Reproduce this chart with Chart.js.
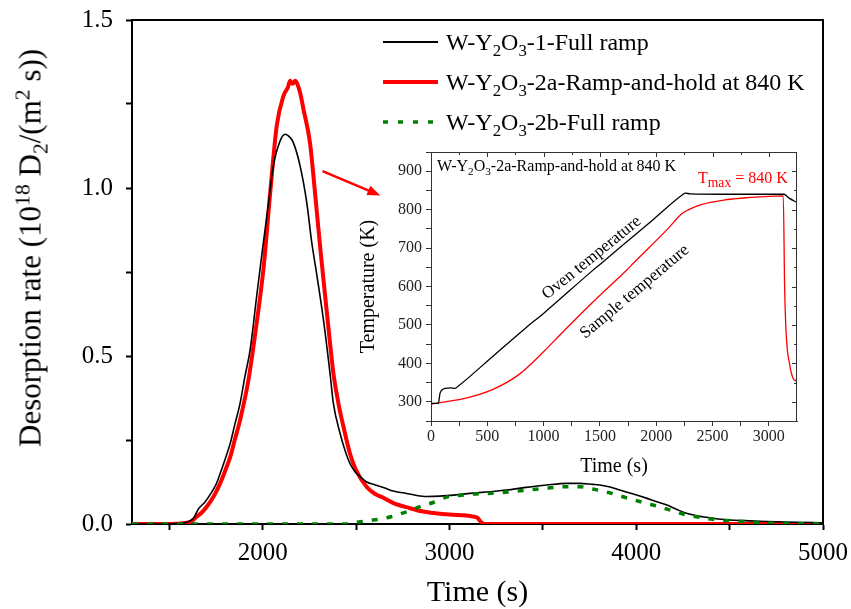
<!DOCTYPE html>
<html>
<head>
<meta charset="utf-8">
<script src="https://cdn.jsdelivr.net/npm/chart.js@4.4.0/dist/chart.umd.min.js"></script>
<style>
  body { margin: 0; background: #fff; }
  #wrap { position: relative; width: 851px; height: 609px; font-family: "Liberation Serif", "Times New Roman", serif; color: #000; }
  canvas { position: absolute; }
  #main { left: 0; top: 0; }
  #inset { left: 350px; top: 145px; }
  .txt { position: absolute; white-space: nowrap; }
  .txt sub, .txt sup { font-size: 70%; line-height: 0; }
  .legend-row { position: absolute; left: 383px; height: 24px; }
  .legend-row svg { position: absolute; left: 0; top: 0; }
  .legend-row span { position: absolute; left: 63px; top: 0; font-size: 24px; line-height: 24px; white-space: nowrap; }
</style>
</head>
<body>
<div id="wrap">
  <canvas id="main" width="851" height="609"></canvas>
  <canvas id="inset" width="455" height="340"></canvas>

  <div class="txt" id="ytitle" style="left:30px; top:248px; font-size:31px; line-height:31px; transform:translate(-50%,-50%) rotate(-90deg);">
    Desorption rate (10<sup>18</sup> D<sub>2</sub>/(m<sup>2</sup> s))
  </div>

  <div class="legend-row" style="top:30px;">
    <svg width="60" height="24"><line x1="0" y1="12" x2="55" y2="12" stroke="#000" stroke-width="1.8"/></svg>
    <span>W-Y<sub style="font-size:70%">2</sub>O<sub style="font-size:70%">3</sub>-1-Full ramp</span>
  </div>
  <div class="legend-row" style="top:70px;">
    <svg width="60" height="24"><line x1="0" y1="12" x2="55" y2="12" stroke="#ff0000" stroke-width="4"/></svg>
    <span>W-Y<sub style="font-size:70%">2</sub>O<sub style="font-size:70%">3</sub>-2a-Ramp-and-hold at 840 K</span>
  </div>
  <div class="legend-row" style="top:110px;">
    <svg width="60" height="24"><line x1="0" y1="12" x2="55" y2="12" stroke="#008000" stroke-width="3.5" stroke-dasharray="5 10"/></svg>
    <span>W-Y<sub style="font-size:70%">2</sub>O<sub style="font-size:70%">3</sub>-2b-Full ramp</span>
  </div>

  <div class="txt" style="left:437px; top:158px; font-size:16px; line-height:16px;">
    W-Y<sub>2</sub>O<sub>3</sub>-2a-Ramp-and-hold at 840 K
  </div>
  <div class="txt" style="left:698px; top:170px; font-size:16px; line-height:16px; color:#ff0000;">
    T<sub style="font-size:85%">max</sub> = 840 K
  </div>
  <div class="txt" style="left:591px; top:257px; font-size:17px; line-height:17px; transform:translate(-50%,-50%) rotate(-39deg);">Oven temperature</div>
  <div class="txt" style="left:634px; top:291px; font-size:17px; line-height:17px; transform:translate(-50%,-50%) rotate(-40deg);">Sample temperature</div>
</div>

<script>
// main TDS spectra, time (s) vs desorption rate (1e18 D2 / m2 s)
const blackTime = [1300, 1450, 1560, 1600, 1629, 1656, 1690, 1719, 1750, 1772, 1800, 1826, 1850, 1879, 1905, 1933, 1968, 1995, 2031, 2057, 2093, 2120, 2147, 2164, 2200, 2236, 2262, 2290, 2325, 2360, 2378, 2414, 2440, 2467, 2495, 2521, 2557, 2592, 2650, 2699, 2760, 2824, 2878, 2949, 3040, 3127, 3215, 3305, 3410, 3519, 3626, 3697, 3768, 3804, 3860, 3911, 3980, 4054, 4110, 4161, 4215, 4268, 4320, 4375, 4440, 4500, 4580, 4660, 4800, 4943, 5000];
const blackRate = [0, 0, 0.002, 0.007, 0.017, 0.045, 0.065, 0.088, 0.118, 0.15, 0.195, 0.24, 0.295, 0.36, 0.44, 0.52, 0.68, 0.80, 0.956, 1.066, 1.14, 1.16, 1.15, 1.135, 1.066, 0.956, 0.84, 0.74, 0.608, 0.45, 0.36, 0.27, 0.22, 0.18, 0.155, 0.141, 0.125, 0.118, 0.108, 0.098, 0.092, 0.085, 0.082, 0.083, 0.087, 0.092, 0.096, 0.101, 0.109, 0.116, 0.121, 0.121, 0.118, 0.116, 0.11, 0.101, 0.09, 0.077, 0.066, 0.057, 0.044, 0.032, 0.025, 0.02, 0.015, 0.012, 0.01, 0.008, 0.006, 0.004, 0.003];

const redTime = [1300, 1500, 1574, 1620, 1647, 1675, 1701, 1740, 1772, 1800, 1826, 1850, 1879, 1924, 1968, 2004, 2040, 2075, 2111, 2135, 2147, 2160, 2173, 2185, 2200, 2218, 2253, 2280, 2307, 2334, 2360, 2378, 2405, 2432, 2467, 2500, 2557, 2600, 2646, 2700, 2788, 2859, 2913, 3000, 3091, 3127, 3150, 3172, 3190, 3300, 5000];
const redRate = [0, 0, 0.002, 0.008, 0.022, 0.035, 0.052, 0.085, 0.121, 0.16, 0.2, 0.25, 0.31, 0.43, 0.6, 0.76, 0.986, 1.185, 1.274, 1.30, 1.319, 1.31, 1.319, 1.31, 1.284, 1.235, 1.135, 0.986, 0.827, 0.68, 0.54, 0.45, 0.36, 0.29, 0.21, 0.16, 0.11, 0.09, 0.078, 0.062, 0.047, 0.037, 0.033, 0.028, 0.025, 0.022, 0.018, 0.004, 0, 0, 0];

const greenTime = [1300, 2450, 2503, 2580, 2646, 2700, 2735, 2790, 2842, 2913, 2984, 3050, 3127, 3200, 3269, 3360, 3447, 3530, 3608, 3697, 3768, 3857, 3929, 4018, 4100, 4178, 4268, 4340, 4410, 4500, 4589, 4700, 5000];
const greenRate = [0, 0, 0.005, 0.011, 0.016, 0.024, 0.03, 0.04, 0.052, 0.064, 0.08, 0.085, 0.089, 0.091, 0.093, 0.098, 0.103, 0.107, 0.111, 0.111, 0.104, 0.093, 0.081, 0.067, 0.055, 0.042, 0.027, 0.02, 0.014, 0.01, 0.007, 0.003, 0];

const seriesNames = ['W-Y2O3-1-Full ramp', 'W-Y2O3-2a-Ramp-and-hold at 840 K', 'W-Y2O3-2b-Full ramp'];

const xTicks = [1500, 2000, 2500, 3000, 3500, 4000, 4500, 5000];
const xLabels = [2000, 3000, 4000, 5000];
const yTicks = [0, 0.25, 0.5, 0.75, 1.0, 1.25, 1.5];
const yLabels = [0, 0.5, 1.0, 1.5];

// arrow pointing to the inset, in data units
const arrowFrom = [2320, 1.05];
const arrowTo = [2630, 0.978];

// inset: oven / sample temperature during ramp-and-hold
const ovenTime = [0, 65, 80, 95, 125, 175, 213, 243, 540, 836, 999, 1429, 1503, 1725, 1977, 2230, 2259, 2300, 2600, 2900, 3134, 3180, 3253];
const ovenTemp = [296, 296, 322, 330, 335, 336, 335, 341, 416, 491, 530, 640, 658, 713, 775, 838, 843, 841, 840, 840, 840, 830, 818];
const sampleTime = [0, 124, 302, 540, 777, 999, 1132, 1429, 1503, 1725, 1799, 2096, 2230, 2290, 2333, 2400, 2481, 2600, 2689, 2800, 2926, 3050, 3128, 3140, 3150, 3164, 3180, 3193, 3210, 3223, 3240, 3253];
const sampleTemp = [294, 300, 309, 331, 370, 430, 470, 557, 578, 639, 661, 748, 790, 800, 806, 813, 819, 825, 828, 831, 833, 835, 836, 600, 500, 435, 405, 383, 365, 357, 355, 338];

const insetXTicks = [0, 250, 500, 750, 1000, 1250, 1500, 1750, 2000, 2250, 2500, 2750, 3000];
const insetYTicks = [250, 300, 350, 400, 450, 500, 550, 600, 650, 700, 750, 800, 850, 900, 950];

Chart.defaults.font.family = "'Liberation Serif', 'Times New Roman', serif";
Chart.defaults.color = '#000';

const toXY = (xs, ys) => xs.map((x, i) => ({ x: x, y: ys[i] }));

// fixed axis size, no extra room for overhanging labels
const fixSize = (w, h) => s => {
  if (w != null) s.width = w;
  if (h != null) s.height = h;
  s.paddingTop = 0; s.paddingBottom = 0; s.paddingLeft = 0; s.paddingRight = 0;
};

const mainDeco = {
  id: 'mainDeco',
  afterDraw(chart) {
    const { ctx, chartArea: a, scales: { x, y } } = chart;
    ctx.save();
    // top and right frame
    ctx.strokeStyle = '#000';
    ctx.lineWidth = 2;
    ctx.beginPath();
    ctx.moveTo(a.left, a.top);
    ctx.lineTo(a.right, a.top);
    ctx.lineTo(a.right, a.bottom);
    ctx.stroke();
    // red arrow
    const x0 = x.getPixelForValue(arrowFrom[0]), y0 = y.getPixelForValue(arrowFrom[1]);
    const x1 = x.getPixelForValue(arrowTo[0]), y1 = y.getPixelForValue(arrowTo[1]);
    const ang = Math.atan2(y1 - y0, x1 - x0);
    ctx.strokeStyle = '#ff0000';
    ctx.fillStyle = '#ff0000';
    ctx.lineWidth = 2.5;
    ctx.beginPath();
    ctx.moveTo(x0, y0);
    ctx.lineTo(x1 - 10 * Math.cos(ang), y1 - 10 * Math.sin(ang));
    ctx.stroke();
    ctx.beginPath();
    ctx.moveTo(x1, y1);
    ctx.lineTo(x1 - 13 * Math.cos(ang) + 5 * Math.sin(ang), y1 - 13 * Math.sin(ang) - 5 * Math.cos(ang));
    ctx.lineTo(x1 - 13 * Math.cos(ang) - 5 * Math.sin(ang), y1 - 13 * Math.sin(ang) + 5 * Math.cos(ang));
    ctx.closePath();
    ctx.fill();
    ctx.restore();
  }
};

new Chart(document.getElementById('main'), {
  type: 'line',
  data: {
    datasets: [
      { label: seriesNames[0], data: toXY(blackTime, blackRate), borderColor: '#000', borderWidth: 1.6, pointRadius: 0, cubicInterpolationMode: 'monotone', order: 1 },
      { label: seriesNames[1], data: toXY(redTime, redRate), borderColor: '#ff0000', borderWidth: 4, pointRadius: 0, cubicInterpolationMode: 'monotone', order: 2 },
      { label: seriesNames[2], data: toXY(greenTime, greenRate), borderColor: '#008000', borderWidth: 3.5, borderDash: [6, 9], pointRadius: 0, cubicInterpolationMode: 'monotone', order: 0 }
    ]
  },
  options: {
    responsive: false,
    animation: false,
    layout: { padding: { top: 20, right: 28, left: 0, bottom: 0 } },
    plugins: { legend: { display: false }, tooltip: { enabled: false } },
    scales: {
      x: {
        type: 'linear', min: 1300, max: 5000,
        afterBuildTicks: s => { s.ticks = xTicks.map(v => ({ value: v })); },
        afterFit: fixSize(null, 85),
        ticks: { callback: v => xLabels.includes(v) ? String(v) : '', font: { size: 25 }, padding: 8, autoSkip: false, maxRotation: 0 },
        grid: { drawOnChartArea: false, tickLength: 6, tickWidth: 2, tickColor: '#000' },
        border: { color: '#000', width: 2 },
        title: { display: true, text: 'Time (s)', font: { size: 30, lineHeight: 1 }, padding: { top: 0, bottom: 1 } }
      },
      y: {
        type: 'linear', min: 0, max: 1.5,
        afterBuildTicks: s => { s.ticks = yTicks.map(v => ({ value: v })); },
        afterFit: fixSize(132, null),
        ticks: { callback: v => yLabels.includes(v) ? v.toFixed(1) : '', font: { size: 25 }, padding: 13, autoSkip: false },
        grid: { drawOnChartArea: false, tickLength: 6, tickWidth: 2, tickColor: '#000' },
        border: { color: '#000', width: 2 }
      }
    }
  },
  plugins: [mainDeco]
});

const insetFrame = {
  id: 'insetFrame',
  afterDraw(chart) {
    const { ctx, chartArea: a, scales: { x, y } } = chart;
    ctx.save();
    ctx.strokeStyle = '#333';
    ctx.lineWidth = 1;
    ctx.beginPath();
    ctx.moveTo(a.left, a.top + 0.5);
    ctx.lineTo(a.right - 0.5, a.top + 0.5);
    ctx.lineTo(a.right - 0.5, a.bottom);
    // mirrored ticks pointing inward
    insetXTicks.forEach(v => {
      const px = Math.round(x.getPixelForValue(v)) + 0.5;
      ctx.moveTo(px, a.top);
      ctx.lineTo(px, a.top + (v % 500 === 0 ? 5 : 3));
    });
    insetYTicks.forEach(v => {
      const py = Math.round(y.getPixelForValue(v)) + 0.5;
      ctx.moveTo(a.right, py);
      ctx.lineTo(a.right - (v % 100 === 0 ? 5 : 3), py);
    });
    ctx.stroke();
    ctx.restore();
  }
};

new Chart(document.getElementById('inset'), {
  type: 'line',
  data: {
    datasets: [
      { label: 'Oven temperature', data: toXY(ovenTime, ovenTemp), borderColor: '#000', borderWidth: 1.3, pointRadius: 0, cubicInterpolationMode: 'monotone' },
      { label: 'Sample temperature', data: toXY(sampleTime, sampleTemp), borderColor: '#ff0000', borderWidth: 1.3, pointRadius: 0, cubicInterpolationMode: 'monotone' }
    ]
  },
  options: {
    responsive: false,
    animation: false,
    layout: { padding: { top: 7, right: 8, left: 0, bottom: 0 } },
    plugins: { legend: { display: false }, tooltip: { enabled: false } },
    scales: {
      x: {
        type: 'linear', min: 0, max: 3250,
        afterBuildTicks: s => { s.ticks = insetXTicks.map(v => ({ value: v })); },
        afterFit: fixSize(null, 64),
        ticks: { callback: v => v % 500 === 0 ? String(v) : '', font: { size: 16 }, color: '#222', padding: 1, autoSkip: false, maxRotation: 0 },
        grid: { drawOnChartArea: false, tickLength: 5, tickWidth: 1, tickColor: '#333' },
        border: { color: '#333', width: 1 },
        title: { display: true, text: 'Time (s)', font: { size: 20 }, padding: { top: 0, bottom: 6 } }
      },
      y: {
        type: 'linear', min: 250, max: 950,
        afterBuildTicks: s => { s.ticks = insetYTicks.map(v => ({ value: v })); },
        afterFit: fixSize(81, null),
        ticks: { callback: v => v % 100 === 0 ? String(v) : '', font: { size: 16 }, color: '#222', padding: 4, autoSkip: false },
        grid: { drawOnChartArea: false, tickLength: 5, tickWidth: 1, tickColor: '#333' },
        border: { color: '#333', width: 1 },
        title: { display: true, text: 'Temperature (K)', font: { size: 20 }, padding: { top: 7, bottom: 0 } }
      }
    }
  },
  plugins: [insetFrame]
});
</script>
</body>
</html>
